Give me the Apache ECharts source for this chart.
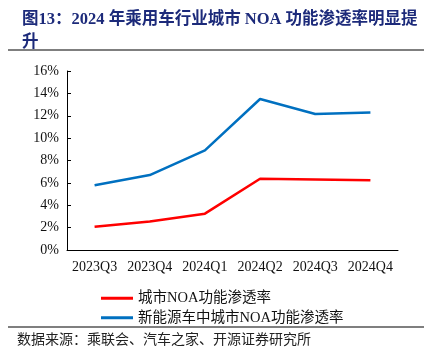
<!DOCTYPE html>
<html><head><meta charset="utf-8">
<script src="https://cdn.jsdelivr.net/npm/echarts@6/dist/echarts.min.js"></script>
<style>html,body{margin:0;padding:0;background:#fff}#c{width:424px;height:361px}</style>
</head><body><div id="c"></div>
<script>
var categories = ['2023Q3','2023Q4','2024Q1','2024Q2','2024Q3','2024Q4'];
var cityNOA = [2.08, 2.55, 3.25, 6.37, 6.3, 6.23];
var nevCityNOA = [5.78, 6.7, 8.9, 13.5, 12.15, 12.3];
var yTicks = [0, 2, 4, 6, 8, 10, 12, 14, 16];
var seriesNames = ['城市NOA功能渗透率', '新能源车中城市NOA功能渗透率'];
var FONT = '"Liberation Serif","Noto Sans CJK SC",serif';
var chart = echarts.init(document.getElementById('c'));
chart.setOption({
  animation: false,
  title: {
    text: '图13：2024 年乘用车行业城市 NOA 功能渗透率明显提\n升',
    left: 17, top: 3,
    textStyle: {fontFamily: FONT, fontSize: 16.5, fontWeight: 'bold', color: '#1C2A7A', lineHeight: 23}
  },
  graphic: [
    {type: 'line', shape: {x1: 8, y1: 50, x2: 424, y2: 50}, style: {stroke: '#555', lineWidth: 1.5}},
    {type: 'line', shape: {x1: 8, y1: 327, x2: 424, y2: 327}, style: {stroke: '#555', lineWidth: 1.5}},
    {type: 'text', left: 17, top: 332, style: {text: '数据来源：乘联会、汽车之家、开源证券研究所', font: '14px "Noto Sans CJK SC"', fill: '#222'}}
  ],
  legend: {
    orient: 'vertical', left: 96, top: 286, itemGap: 5,
    itemWidth: 32, itemHeight: 3, icon: 'rect',
    data: seriesNames,
    textStyle: {fontFamily: FONT, fontSize: 14.5, color: '#111'}
  },
  grid: {left: 67, right: 26, top: 71, bottom: 111},
  xAxis: {
    type: 'category', data: categories, boundaryGap: true,
    axisLine: {lineStyle: {color: '#000', width: 1}},
    axisTick: {inside: true, length: 4, lineStyle: {color: '#000'}},
    axisLabel: {fontFamily: FONT, fontSize: 14, color: '#111', margin: 10, interval: 0, hideOverlap: false}
  },
  yAxis: {
    type: 'value', min: 0, max: 16, interval: 2,
    axisLine: {show: true, lineStyle: {color: '#000', width: 1}},
    axisTick: {show: true, inside: true, length: 4, lineStyle: {color: '#000'}},
    splitLine: {show: false},
    axisLabel: {fontFamily: FONT, fontSize: 14, color: '#111', margin: 8,
      formatter: function (v) { return yTicks.indexOf(v) >= 0 ? v + '%' : ''; }}
  },
  series: [
    {name: seriesNames[0], type: 'line', data: cityNOA, symbol: 'none',
      lineStyle: {color: '#FF0000', width: 2.5}, itemStyle: {color: '#FF0000'}},
    {name: seriesNames[1], type: 'line', data: nevCityNOA, symbol: 'none',
      lineStyle: {color: '#0070C0', width: 2.5}, itemStyle: {color: '#0070C0'}}
  ]
});
</script></body></html>
